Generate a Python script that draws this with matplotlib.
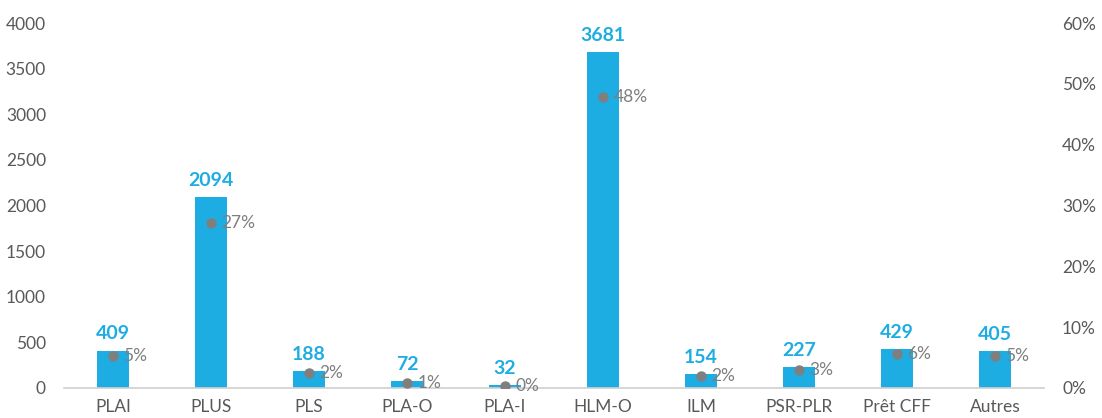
import matplotlib
matplotlib.use("Agg")
import matplotlib.pyplot as plt
import numpy as np

categories = ["PLAI", "PLUS", "PLS", "PLA-O", "PLA-I", "HLM-O", "ILM", "PSR-PLR", "Prêt CFF", "Autres"]
counts = [409, 2094, 188, 72, 32, 3681, 154, 227, 429, 405]
shares = [5.3, 27.2, 2.4, 0.9, 0.4, 47.9, 2.0, 3.0, 5.6, 5.3]
share_labels = ["5%", "27%", "2%", "1%", "0%", "48%", "2%", "3%", "6%", "5%"]
left_ticks = [0, 500, 1000, 1500, 2000, 2500, 3000, 3500, 4000]
right_ticks = [0, 10, 20, 30, 40, 50, 60]

BLUE = "#1eade3"
GREY = "#7f7f7f"
TXT = "#595959"
plt.rcParams['font.family'] = ['Lato', 'DejaVu Sans']

fig = plt.figure(figsize=(11.02, 4.18), dpi=100)
ax = fig.add_axes([64/1102, 30/418, 980/1102, 365/418])
x = np.arange(len(categories))
ax.bar(x, counts, width=0.32, color=BLUE, zorder=2)
ax.set_xlim(-0.5, len(categories) - 0.5)
ax.set_ylim(0, 4000)
ax.set_yticks(left_ticks)
ax.set_yticklabels([str(t) for t in left_ticks], fontsize=12.5, color=TXT)
ax.set_xticks(x)
ax.set_xticklabels(categories, fontsize=12.5, color=TXT)
ax.tick_params(axis="both", length=0)
ax.tick_params(axis="x", pad=8)
ax.tick_params(axis="y", pad=13)
for s in ["top", "right", "left"]:
    ax.spines[s].set_visible(False)
ax.spines["bottom"].set_color("#d0d0d0")
ax.spines["bottom"].set_linewidth(1.2)
for xi, c in zip(x, counts):
    ax.annotate(str(c), (xi, c), xytext=(0, 6), textcoords="offset points",
                ha="center", va="bottom", fontsize=14, fontweight="bold", color=BLUE)

ax2 = ax.twinx()
ax2.set_ylim(0, 60)
ax2.set_yticks(right_ticks)
ax2.set_yticklabels([f"{t}%" for t in right_ticks], fontsize=12.5, color=TXT)
ax2.tick_params(axis="y", length=0, pad=13)
for s in ["top", "right", "left", "bottom"]:
    ax2.spines[s].set_visible(False)
ax2.plot(x, shares, linestyle="none", marker="o", markersize=6.5, color=GREY, zorder=3)
for xi, p, lab in zip(x, shares, share_labels):
    ax2.annotate(lab, (xi, p), xytext=(7.5, 0), textcoords="offset points",
                 ha="left", va="center", fontsize=12.5, color=GREY, zorder=4)

fig.savefig("out.png", dpi=100)
